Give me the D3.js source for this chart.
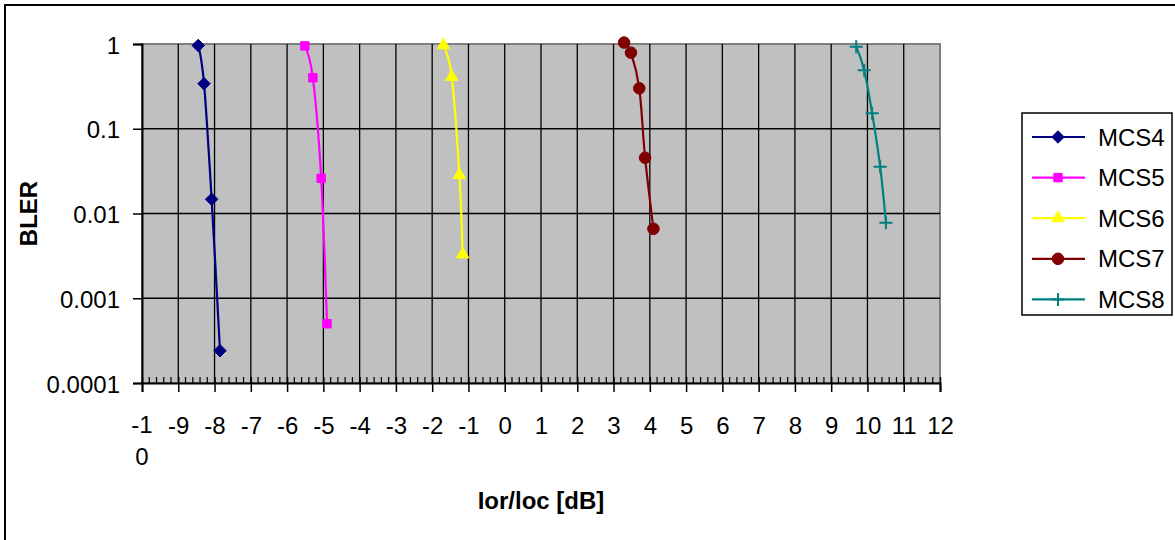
<!DOCTYPE html>
<html>
<head>
<meta charset="utf-8">
<script src="https://cdn.jsdelivr.net/npm/d3@7"></script>
<style>
  body { margin: 0; background: #fff; }
  svg text { font-family: Arial, "Liberation Sans", sans-serif; }
</style>
</head>
<body>
<div class="bler-wrapper"></div>
<script>
// series names + values
const seriesNames = ["MCS4", "MCS5", "MCS6", "MCS7", "MCS8"];
const seriesColors = ["#000080", "#FF00FF", "#FFFF00", "#800000", "#008080"];
const seriesMarkers = ["diamond", "square", "triangle", "circle", "plus"];

const iorMCS4 = [-8.45, -8.29, -8.08, -7.85];
const blerMCS4 = [0.96, 0.34, 0.0147, 0.00024];
const iorMCS5 = [-5.51, -5.29, -5.06, -4.9];
const blerMCS5 = [0.95, 0.40, 0.026, 0.0005];
const iorMCS6 = [-1.69, -1.46, -1.25, -1.16];
const blerMCS6 = [0.97, 0.41, 0.0285, 0.0033];
const iorMCS7 = [3.29, 3.48, 3.71, 3.87, 4.10];
const blerMCS7 = [1.04, 0.79, 0.30, 0.0455, 0.0066];
const iorMCS8 = [9.69, 9.91, 10.13, 10.35, 10.51];
const blerMCS8 = [0.93, 0.49, 0.152, 0.0357, 0.0078];

const xTicks = d3.range(-10, 13); // -10 .. 12
const yTicks = [0.0001, 0.001, 0.01, 0.1, 1];
const yTickLabels = ["0.0001", "0.001", "0.01", "0.1", "1"];

const xTitle = "Ior/loc [dB]";
const yTitle = "BLER";

let iors = [iorMCS4, iorMCS5, iorMCS6, iorMCS7, iorMCS8];
let blers = [blerMCS4, blerMCS5, blerMCS6, blerMCS7, blerMCS8];
let series = seriesNames.map((name, i) => ({
  name: name,
  color: seriesColors[i],
  marker: seriesMarkers[i],
  points: iors[i].map((x, j) => ({ x: x, y: blers[i][j] }))
}));

const width = 1175, height = 540;
const plot = { left: 142, right: 940, top: 44, bottom: 383 };

let x = d3.scaleLinear().domain([-10, 12]).range([plot.left, plot.right]);
let y = d3.scaleLog().domain([0.0001, 1]).range([plot.bottom, plot.top]);

let svg = d3.select(".bler-wrapper")
  .append("svg")
  .attr("width", width)
  .attr("height", height);

// chart area border (right/bottom run off the picture)
svg.append("rect")
  .attr("x", 5).attr("y", 5)
  .attr("width", width).attr("height", height)
  .attr("fill", "#fff")
  .attr("stroke", "#000")
  .attr("stroke-width", 2);

// plot area
svg.append("rect")
  .attr("x", plot.left).attr("y", plot.top)
  .attr("width", plot.right - plot.left)
  .attr("height", plot.bottom - plot.top)
  .attr("fill", "#C0C0C0")
  .attr("stroke", "#808080")
  .attr("stroke-width", 2);

// gridlines
svg.append("g")
  .selectAll("line")
  .data(xTicks.filter(d => d > -10 && d < 12))
  .enter()
  .append("line")
  .attr("x1", d => x(d)).attr("x2", d => x(d))
  .attr("y1", plot.top).attr("y2", plot.bottom)
  .attr("stroke", "#000")
  .attr("stroke-width", 1.3);

svg.append("g")
  .selectAll("line")
  .data(yTicks.filter(d => d > 0.0001 && d < 1))
  .enter()
  .append("line")
  .attr("x1", plot.left).attr("x2", plot.right)
  .attr("y1", d => y(d)).attr("y2", d => y(d))
  .attr("stroke", "#000")
  .attr("stroke-width", 1.3);

// y axis
let yAxis = d3.axisLeft(y)
  .tickValues(yTicks)
  .tickFormat((d, i) => yTickLabels[i])
  .tickSize(9)
  .tickPadding(13);

let gy = svg.append("g")
  .attr("transform", `translate(${plot.left},0)`)
  .call(yAxis);
gy.select(".domain").attr("stroke", "#000").attr("stroke-width", 2);
gy.selectAll(".tick line").attr("stroke", "#000").attr("stroke-width", 1.5);
gy.selectAll(".tick text")
  .attr("font-size", 24)
  .attr("fill", "#000")
  .attr("dy", "0.38em");

// x axis: minor ticks inside, major ticks crossing
let minor = d3.range(-10, 12.001, 0.2).filter(d => Math.abs(d - Math.round(d)) > 1e-6);
svg.append("g")
  .selectAll("line")
  .data(minor)
  .enter()
  .append("line")
  .attr("x1", d => x(d)).attr("x2", d => x(d))
  .attr("y1", plot.bottom - 6).attr("y2", plot.bottom)
  .attr("stroke", "#000")
  .attr("stroke-width", 1.2);

let xAxis = d3.axisBottom(x)
  .tickValues(xTicks)
  .tickFormat(d => d === -10 ? "" : d)
  .tickSize(9)
  .tickPadding(25);

let gx = svg.append("g")
  .attr("transform", `translate(0,${plot.bottom})`)
  .call(xAxis);
gx.select(".domain").attr("stroke", "#000").attr("stroke-width", 2);
gx.selectAll(".tick line")
  .attr("y1", -6)
  .attr("stroke", "#000")
  .attr("stroke-width", 1.5);
gx.selectAll(".tick text")
  .attr("font-size", 24)
  .attr("fill", "#000");

// -10 does not fit, Excel wraps it
let wrapped = svg.append("text")
  .attr("x", x(-10))
  .attr("text-anchor", "middle")
  .attr("font-size", 24)
  .attr("fill", "#000");
wrapped.append("tspan").attr("x", x(-10)).attr("y", 433).text("-1");
wrapped.append("tspan").attr("x", x(-10)).attr("y", 465).text("0");

// axis titles
svg.append("text")
  .attr("x", (plot.left + plot.right) / 2)
  .attr("y", 509)
  .attr("text-anchor", "middle")
  .attr("font-size", 24)
  .attr("font-weight", "bold")
  .text(xTitle);

svg.append("text")
  .attr("transform", `translate(37,${(plot.top + plot.bottom) / 2}) rotate(-90)`)
  .attr("text-anchor", "middle")
  .attr("font-size", 24)
  .attr("font-weight", "bold")
  .text(yTitle);

// markers
let markerPath = (type) => {
  switch (type) {
    case "diamond": return d3.symbol(d3.symbolDiamond2, 100)();
    case "square": return d3.symbol(d3.symbolSquare2, 90)();
    case "triangle": return d3.symbol(d3.symbolTriangle2, 110)();
    case "circle": return d3.symbol(d3.symbolCircle, 105)();
    case "plus": return "M-6.5,0H6.5M0,-6.5V6.5";
  }
};

let drawMarker = (g, s) => {
  let p = g.append("path").attr("d", markerPath(s.marker));
  if (s.marker === "plus") {
    p.attr("fill", "none").attr("stroke", s.color).attr("stroke-width", 2);
  } else {
    p.attr("fill", s.color).attr("stroke", s.color).attr("stroke-width", 1);
  }
};

let line = d3.line()
  .x(d => x(d.x))
  .y(d => y(d.y))
  .curve(d3.curveCatmullRom.alpha(0));

series.forEach(s => {
  svg.append("path")
    .datum(s.points)
    .attr("d", line)
    .attr("fill", "none")
    .attr("stroke", s.color)
    .attr("stroke-width", 2.2);

  svg.append("g")
    .selectAll("g")
    .data(s.points)
    .enter()
    .append("g")
    .attr("transform", d => `translate(${x(d.x)},${y(d.y)})`)
    .each(function () { drawMarker(d3.select(this), s); });
});

// legend
const legend = { x: 1022, y: 113, w: 150, h: 202, row0: 137, rowStep: 40.6 };
svg.append("rect")
  .attr("x", legend.x).attr("y", legend.y)
  .attr("width", legend.w).attr("height", legend.h)
  .attr("fill", "#fff")
  .attr("stroke", "#000")
  .attr("stroke-width", 1.5);

let rows = svg.append("g")
  .selectAll("g")
  .data(series)
  .enter()
  .append("g")
  .attr("transform", (d, i) => `translate(0,${legend.row0 + i * legend.rowStep})`);

rows.append("line")
  .attr("x1", 1032).attr("x2", 1085)
  .attr("stroke", d => d.color)
  .attr("stroke-width", 2.2);

rows.append("g")
  .attr("transform", "translate(1058,0)")
  .each(function (d) { drawMarker(d3.select(this), d); });

rows.append("text")
  .attr("x", 1098)
  .attr("dy", "0.36em")
  .attr("font-size", 24)
  .attr("fill", "#000")
  .text(d => d.name);
</script>
</body>
</html>
